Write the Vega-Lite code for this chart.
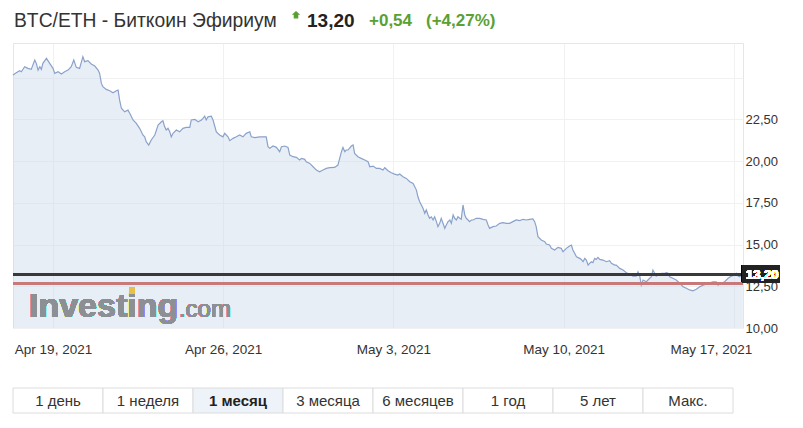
{
  "$schema": "https://vega.github.io/schema/vega-lite/v6.json",
  "padding": {"left": 10, "top": 0, "right": 20, "bottom": 10},
  "config": {"view": {"stroke": null}, "font": "Liberation Sans"},
  "datasets": {
    "btc": [
      {"date":"2021-04-17T08:30:00Z","price":25.15},{"date":"2021-04-17T11:45:00Z","price":25.29},{"date":"2021-04-17T15:00:00Z","price":25.41},{"date":"2021-04-17T16:45:00Z","price":25.35},{"date":"2021-04-17T20:00:00Z","price":25.65},{"date":"2021-04-17T23:15:00Z","price":25.55},
      {"date":"2021-04-18T02:30:00Z","price":25.49},{"date":"2021-04-18T06:00:00Z","price":26.05},{"date":"2021-04-18T07:30:00Z","price":25.85},{"date":"2021-04-18T09:15:00Z","price":25.45},{"date":"2021-04-18T11:00:00Z","price":25.65},{"date":"2021-04-18T12:30:00Z","price":25.49},{"date":"2021-04-18T14:00:00Z","price":25.85},{"date":"2021-04-18T17:30:00Z","price":26.15},{"date":"2021-04-18T20:45:00Z","price":25.85},
      {"date":"2021-04-19T00:00:00Z","price":25.55},{"date":"2021-04-19T01:45:00Z","price":25.25},{"date":"2021-04-19T05:00:00Z","price":25.35},{"date":"2021-04-19T08:15:00Z","price":25.21},{"date":"2021-04-19T11:30:00Z","price":25.35},{"date":"2021-04-19T14:45:00Z","price":25.45},{"date":"2021-04-19T18:00:00Z","price":25.65},{"date":"2021-04-19T20:30:00Z","price":26.05},{"date":"2021-04-19T23:00:00Z","price":25.61},
      {"date":"2021-04-20T02:15:00Z","price":25.55},{"date":"2021-04-20T05:30:00Z","price":26.25},{"date":"2021-04-20T07:15:00Z","price":25.95},{"date":"2021-04-20T10:30:00Z","price":26.01},{"date":"2021-04-20T13:45:00Z","price":25.81},{"date":"2021-04-20T17:15:00Z","price":25.69},{"date":"2021-04-20T20:30:00Z","price":25.45},{"date":"2021-04-20T22:00:00Z","price":25.25},{"date":"2021-04-20T23:45:00Z","price":24.65},
      {"date":"2021-04-21T01:15:00Z","price":24.45},{"date":"2021-04-21T04:30:00Z","price":24.29},{"date":"2021-04-21T08:00:00Z","price":24.21},{"date":"2021-04-21T11:15:00Z","price":24.09},{"date":"2021-04-21T14:30:00Z","price":24.21},{"date":"2021-04-21T16:15:00Z","price":24.25},{"date":"2021-04-21T17:45:00Z","price":23.65},{"date":"2021-04-21T19:30:00Z","price":23.16},{"date":"2021-04-21T22:45:00Z","price":22.95},
      {"date":"2021-04-22T02:00:00Z","price":23.05},{"date":"2021-04-22T03:45:00Z","price":22.86},{"date":"2021-04-22T07:00:00Z","price":22.46},{"date":"2021-04-22T10:15:00Z","price":22.26},{"date":"2021-04-22T13:30:00Z","price":21.96},{"date":"2021-04-22T16:45:00Z","price":21.56},{"date":"2021-04-22T18:30:00Z","price":21.45},{"date":"2021-04-22T20:00:00Z","price":21.16},{"date":"2021-04-22T22:30:00Z","price":20.96},
      {"date":"2021-04-23T01:00:00Z","price":21.26},{"date":"2021-04-23T04:30:00Z","price":21.56},{"date":"2021-04-23T07:45:00Z","price":22.16},{"date":"2021-04-23T11:00:00Z","price":22.35},{"date":"2021-04-23T12:30:00Z","price":22.41},{"date":"2021-04-23T14:15:00Z","price":22.05},{"date":"2021-04-23T15:45:00Z","price":21.86},{"date":"2021-04-23T17:30:00Z","price":21.96},{"date":"2021-04-23T19:15:00Z","price":21.75},{"date":"2021-04-23T20:45:00Z","price":21.45},{"date":"2021-04-23T22:30:00Z","price":21.66},
      {"date":"2021-04-24T01:45:00Z","price":21.86},{"date":"2021-04-24T05:00:00Z","price":21.75},{"date":"2021-04-24T08:15:00Z","price":21.96},{"date":"2021-04-24T11:30:00Z","price":22.02},{"date":"2021-04-24T15:00:00Z","price":22.02},{"date":"2021-04-24T16:30:00Z","price":22.46},{"date":"2021-04-24T20:00:00Z","price":22.50},{"date":"2021-04-24T23:15:00Z","price":22.35},
      {"date":"2021-04-25T02:30:00Z","price":22.46},{"date":"2021-04-25T04:00:00Z","price":22.56},{"date":"2021-04-25T05:45:00Z","price":22.69},{"date":"2021-04-25T07:15:00Z","price":22.46},{"date":"2021-04-25T09:00:00Z","price":22.65},{"date":"2021-04-25T12:15:00Z","price":22.69},{"date":"2021-04-25T14:00:00Z","price":22.46},{"date":"2021-04-25T17:15:00Z","price":21.75},{"date":"2021-04-25T20:30:00Z","price":21.56},{"date":"2021-04-25T23:45:00Z","price":21.45},
      {"date":"2021-04-26T01:30:00Z","price":21.66},{"date":"2021-04-26T04:45:00Z","price":21.45},{"date":"2021-04-26T06:30:00Z","price":21.22},{"date":"2021-04-26T09:45:00Z","price":21.36},{"date":"2021-04-26T13:00:00Z","price":21.45},{"date":"2021-04-26T16:15:00Z","price":21.56},{"date":"2021-04-26T19:30:00Z","price":21.45},{"date":"2021-04-26T22:45:00Z","price":21.66},
      {"date":"2021-04-27T02:15:00Z","price":21.75},{"date":"2021-04-27T03:45:00Z","price":21.45},{"date":"2021-04-27T07:15:00Z","price":21.40},{"date":"2021-04-27T12:00:00Z","price":21.45},{"date":"2021-04-27T17:00:00Z","price":21.45},{"date":"2021-04-27T18:30:00Z","price":21.45},{"date":"2021-04-27T20:15:00Z","price":20.86},{"date":"2021-04-27T22:00:00Z","price":20.76},
      {"date":"2021-04-28T01:15:00Z","price":20.90},{"date":"2021-04-28T04:30:00Z","price":20.82},{"date":"2021-04-28T07:45:00Z","price":20.56},{"date":"2021-04-28T09:30:00Z","price":20.86},{"date":"2021-04-28T12:45:00Z","price":20.90},{"date":"2021-04-28T16:00:00Z","price":20.82},{"date":"2021-04-28T17:45:00Z","price":20.36},{"date":"2021-04-28T21:00:00Z","price":20.26},
      {"date":"2021-04-29T00:15:00Z","price":20.22},{"date":"2021-04-29T03:30:00Z","price":20.06},{"date":"2021-04-29T05:15:00Z","price":20.16},{"date":"2021-04-29T08:30:00Z","price":20.10},{"date":"2021-04-29T10:00:00Z","price":19.96},{"date":"2021-04-29T13:30:00Z","price":19.86},{"date":"2021-04-29T16:45:00Z","price":19.66},{"date":"2021-04-29T20:00:00Z","price":19.46},{"date":"2021-04-29T23:15:00Z","price":19.36},
      {"date":"2021-04-30T02:30:00Z","price":19.46},{"date":"2021-04-30T05:45:00Z","price":19.56},{"date":"2021-04-30T09:15:00Z","price":19.60},{"date":"2021-04-30T14:00:00Z","price":19.62},{"date":"2021-04-30T17:15:00Z","price":19.76},{"date":"2021-04-30T19:00:00Z","price":20.16},{"date":"2021-04-30T20:45:00Z","price":20.56},{"date":"2021-04-30T22:15:00Z","price":20.82},
      {"date":"2021-05-01T00:00:00Z","price":20.56},{"date":"2021-05-01T01:30:00Z","price":20.66},{"date":"2021-05-01T03:15:00Z","price":20.66},{"date":"2021-05-01T06:30:00Z","price":20.90},{"date":"2021-05-01T08:15:00Z","price":20.96},{"date":"2021-05-01T09:45:00Z","price":20.46},{"date":"2021-05-01T13:00:00Z","price":20.26},{"date":"2021-05-01T16:15:00Z","price":20.16},{"date":"2021-05-01T19:45:00Z","price":20.06},{"date":"2021-05-01T23:00:00Z","price":19.96},
      {"date":"2021-05-02T00:45:00Z","price":19.66},{"date":"2021-05-02T04:00:00Z","price":19.70},{"date":"2021-05-02T07:15:00Z","price":19.56},{"date":"2021-05-02T10:30:00Z","price":19.56},{"date":"2021-05-02T13:45:00Z","price":19.46},{"date":"2021-05-02T15:30:00Z","price":19.60},{"date":"2021-05-02T18:45:00Z","price":19.42},{"date":"2021-05-02T22:00:00Z","price":19.30},
      {"date":"2021-05-03T01:15:00Z","price":19.22},{"date":"2021-05-03T04:30:00Z","price":19.16},{"date":"2021-05-03T06:15:00Z","price":19.22},{"date":"2021-05-03T09:30:00Z","price":19.06},{"date":"2021-05-03T12:45:00Z","price":18.96},{"date":"2021-05-03T16:15:00Z","price":18.76},{"date":"2021-05-03T19:30:00Z","price":18.66},{"date":"2021-05-03T22:45:00Z","price":18.26},
      {"date":"2021-05-04T00:15:00Z","price":17.86},{"date":"2021-05-04T02:00:00Z","price":17.56},{"date":"2021-05-04T05:15:00Z","price":17.17},{"date":"2021-05-04T07:00:00Z","price":16.87},{"date":"2021-05-04T08:30:00Z","price":17.07},{"date":"2021-05-04T10:15:00Z","price":16.77},{"date":"2021-05-04T11:45:00Z","price":16.57},{"date":"2021-05-04T13:30:00Z","price":16.66},{"date":"2021-05-04T15:15:00Z","price":16.47},{"date":"2021-05-04T16:45:00Z","price":16.66},{"date":"2021-05-04T18:30:00Z","price":16.37},{"date":"2021-05-04T20:00:00Z","price":16.07},{"date":"2021-05-04T21:45:00Z","price":16.27},{"date":"2021-05-04T23:15:00Z","price":16.57},
      {"date":"2021-05-05T01:00:00Z","price":16.27},{"date":"2021-05-05T02:45:00Z","price":15.97},{"date":"2021-05-05T04:15:00Z","price":16.17},{"date":"2021-05-05T06:00:00Z","price":16.37},{"date":"2021-05-05T07:45:00Z","price":16.47},{"date":"2021-05-05T09:15:00Z","price":16.27},{"date":"2021-05-05T11:00:00Z","price":16.77},{"date":"2021-05-05T12:30:00Z","price":16.57},{"date":"2021-05-05T14:15:00Z","price":16.47},{"date":"2021-05-05T15:45:00Z","price":16.66},{"date":"2021-05-05T17:30:00Z","price":16.57},{"date":"2021-05-05T19:00:00Z","price":16.51},{"date":"2021-05-05T20:45:00Z","price":17.37},{"date":"2021-05-05T22:30:00Z","price":16.77},
      {"date":"2021-05-06T00:00:00Z","price":16.57},{"date":"2021-05-06T01:45:00Z","price":16.47},{"date":"2021-05-06T03:15:00Z","price":16.37},{"date":"2021-05-06T05:00:00Z","price":16.47},{"date":"2021-05-06T06:45:00Z","price":16.47},{"date":"2021-05-06T09:45:00Z","price":16.57},{"date":"2021-05-06T13:15:00Z","price":16.57},{"date":"2021-05-06T16:30:00Z","price":16.51},{"date":"2021-05-06T19:45:00Z","price":16.47},{"date":"2021-05-06T21:30:00Z","price":16.17},{"date":"2021-05-06T23:00:00Z","price":15.97},
      {"date":"2021-05-07T02:15:00Z","price":16.07},{"date":"2021-05-07T05:30:00Z","price":16.11},{"date":"2021-05-07T09:00:00Z","price":16.27},{"date":"2021-05-07T12:15:00Z","price":16.31},{"date":"2021-05-07T15:30:00Z","price":16.27},{"date":"2021-05-07T18:45:00Z","price":16.27},{"date":"2021-05-07T22:00:00Z","price":16.37},
      {"date":"2021-05-08T01:15:00Z","price":16.47},{"date":"2021-05-08T04:45:00Z","price":16.43},{"date":"2021-05-08T08:00:00Z","price":16.51},{"date":"2021-05-08T11:15:00Z","price":16.47},{"date":"2021-05-08T14:30:00Z","price":16.51},{"date":"2021-05-08T17:45:00Z","price":16.53},{"date":"2021-05-08T19:30:00Z","price":16.37},{"date":"2021-05-08T21:00:00Z","price":16.07},{"date":"2021-05-08T22:45:00Z","price":15.47},
      {"date":"2021-05-09T02:00:00Z","price":15.27},{"date":"2021-05-09T05:30:00Z","price":15.17},{"date":"2021-05-09T07:00:00Z","price":15.03},{"date":"2021-05-09T10:15:00Z","price":14.97},{"date":"2021-05-09T12:00:00Z","price":14.77},{"date":"2021-05-09T15:15:00Z","price":14.67},{"date":"2021-05-09T18:30:00Z","price":14.83},{"date":"2021-05-09T21:45:00Z","price":14.77},{"date":"2021-05-09T23:30:00Z","price":14.57},
      {"date":"2021-05-10T02:45:00Z","price":14.77},{"date":"2021-05-10T06:00:00Z","price":14.91},{"date":"2021-05-10T07:45:00Z","price":14.97},{"date":"2021-05-10T09:15:00Z","price":14.67},{"date":"2021-05-10T12:45:00Z","price":14.27},{"date":"2021-05-10T16:00:00Z","price":14.17},{"date":"2021-05-10T17:30:00Z","price":14.11},{"date":"2021-05-10T19:15:00Z","price":13.97},{"date":"2021-05-10T21:00:00Z","price":14.17},{"date":"2021-05-10T22:30:00Z","price":14.07},
      {"date":"2021-05-11T00:15:00Z","price":13.77},{"date":"2021-05-11T01:45:00Z","price":13.87},{"date":"2021-05-11T03:30:00Z","price":13.97},{"date":"2021-05-11T05:00:00Z","price":13.91},{"date":"2021-05-11T06:45:00Z","price":14.17},{"date":"2021-05-11T08:15:00Z","price":14.11},{"date":"2021-05-11T10:00:00Z","price":14.23},{"date":"2021-05-11T11:45:00Z","price":14.11},{"date":"2021-05-11T15:00:00Z","price":14.07},{"date":"2021-05-11T18:15:00Z","price":13.97},{"date":"2021-05-11T21:30:00Z","price":14.03},{"date":"2021-05-11T23:15:00Z","price":13.87},
      {"date":"2021-05-12T02:30:00Z","price":13.77},{"date":"2021-05-12T04:00:00Z","price":13.77},{"date":"2021-05-12T07:30:00Z","price":13.57},{"date":"2021-05-12T10:45:00Z","price":13.47},{"date":"2021-05-12T14:00:00Z","price":13.31},{"date":"2021-05-12T17:15:00Z","price":13.23},{"date":"2021-05-12T20:30:00Z","price":13.11},{"date":"2021-05-12T23:45:00Z","price":13.11},
      {"date":"2021-05-13T01:30:00Z","price":13.37},{"date":"2021-05-13T03:15:00Z","price":13.11},{"date":"2021-05-13T04:45:00Z","price":12.57},{"date":"2021-05-13T06:30:00Z","price":12.87},{"date":"2021-05-13T09:45:00Z","price":12.77},{"date":"2021-05-13T13:00:00Z","price":12.98},{"date":"2021-05-13T14:45:00Z","price":13.07},{"date":"2021-05-13T16:15:00Z","price":13.47},{"date":"2021-05-13T18:00:00Z","price":13.28},{"date":"2021-05-13T19:30:00Z","price":13.11},{"date":"2021-05-13T21:15:00Z","price":13.17},
      {"date":"2021-05-14T00:30:00Z","price":13.28},{"date":"2021-05-14T04:00:00Z","price":13.28},{"date":"2021-05-14T05:30:00Z","price":13.31},{"date":"2021-05-14T07:15:00Z","price":13.28},{"date":"2021-05-14T08:45:00Z","price":13.07},{"date":"2021-05-14T12:00:00Z","price":12.98},{"date":"2021-05-14T15:15:00Z","price":12.87},{"date":"2021-05-14T18:45:00Z","price":12.68},{"date":"2021-05-14T22:00:00Z","price":12.47},
      {"date":"2021-05-15T01:15:00Z","price":12.38},{"date":"2021-05-15T04:30:00Z","price":12.28},{"date":"2021-05-15T07:45:00Z","price":12.23},{"date":"2021-05-15T11:00:00Z","price":12.32},{"date":"2021-05-15T14:30:00Z","price":12.47},{"date":"2021-05-15T17:45:00Z","price":12.57},{"date":"2021-05-15T21:00:00Z","price":12.63},
      {"date":"2021-05-16T00:15:00Z","price":12.71},{"date":"2021-05-16T03:30:00Z","price":12.77},{"date":"2021-05-16T06:45:00Z","price":12.77},{"date":"2021-05-16T08:30:00Z","price":12.57},{"date":"2021-05-16T11:45:00Z","price":12.68},{"date":"2021-05-16T15:00:00Z","price":12.77},{"date":"2021-05-16T18:30:00Z","price":12.98},{"date":"2021-05-16T21:45:00Z","price":13.11},
      {"date":"2021-05-17T01:00:00Z","price":13.17},{"date":"2021-05-17T02:30:00Z","price":13.28},{"date":"2021-05-17T04:15:00Z","price":13.11},{"date":"2021-05-17T06:00:00Z","price":13.07},{"date":"2021-05-17T07:30:00Z","price":13.17},{"date":"2021-05-17T09:00:00Z","price":13.20}
    ],
    "header": [
      {"seg": 0, "label": "BTC/ETH - Биткоин Эфириум"},
      {"seg": 1, "label": "up"},
      {"seg": 2, "label": "13,20"},
      {"seg": 3, "label": "+0,54"},
      {"seg": 4, "label": "(+4,27%)"}
    ],
    "periods": [
      {"label": "1 день"}, {"label": "1 неделя"}, {"label": "1 месяц"}, {"label": "3 месяца"},
      {"label": "6 месяцев"}, {"label": "1 год"}, {"label": "5 лет"}, {"label": "Макс."}
    ]
  },
  "vconcat": [
    {
      "width": 730,
      "height": 42,
      "data": {"name": "header"},
      "encoding": {
        "x": {"field": "seg", "type": "quantitative", "axis": null,
              "scale": {"domain": [0, 1, 2, 3, 4], "range": [1, 283, 294, 356, 413], "zero": false, "nice": false}}
      },
      "layer": [
        {"transform": [{"filter": "datum.seg === 0"}],
         "mark": {"type": "text", "align": "left", "baseline": "middle", "fontSize": 19.3, "color": "#333333"},
         "encoding": {"text": {"field": "label"}}},
        {"transform": [{"filter": "datum.seg === 1"}],
         "mark": {"type": "point", "shape": "M0,-1.67L0.7,-1.05L0.38,-1.05L0.38,-0.43L-0.38,-0.43L-0.38,-1.05L-0.7,-1.05Z", "filled": true, "size": 144, "color": "#5ba033", "opacity": 1}},
        {"transform": [{"filter": "datum.seg === 2"}],
         "mark": {"type": "text", "align": "left", "baseline": "middle", "fontSize": 19, "fontWeight": "bold", "color": "#222222"},
         "encoding": {"text": {"field": "label"}}},
        {"transform": [{"filter": "datum.seg >= 3"}],
         "mark": {"type": "text", "align": "left", "baseline": "middle", "fontSize": 17, "fontWeight": "bold", "color": "#5ba033"},
         "encoding": {"text": {"field": "label"}}}
      ]
    },
    {
      "bounds": "flush",
      "spacing": 60,
      "vconcat": [
        {
          "width": 730,
          "height": 285,
          "view": {"stroke": "#e6e6e6"},
          "data": {"name": "btc"},
          "layer": [
            {
              "mark": {"type": "area", "color": "#cdd9ea", "fillOpacity": 0.45, "line": {"color": "#8aa2ca", "strokeWidth": 1.2}},
              "encoding": {
                "x": {"field": "date", "type": "temporal",
                      "scale": {"type": "utc", "nice": false,
                                "domain": [{"year": 2021, "month": 4, "date": 17, "hours": 8, "minutes": 30, "utc": true},
                                           {"year": 2021, "month": 5, "date": 17, "hours": 9, "minutes": 10, "utc": true}]},
                      "axis": {"title": null, "values": [
                                 {"year": 2021, "month": 4, "date": 19, "utc": true},
                                 {"year": 2021, "month": 4, "date": 26, "utc": true},
                                 {"year": 2021, "month": 5, "date": 3, "utc": true},
                                 {"year": 2021, "month": 5, "date": 10, "utc": true},
                                 {"year": 2021, "month": 5, "date": 17, "utc": true}],
                               "labelExpr": "utcFormat(datum.value, '%b %-d, %Y')",
                               "grid": true, "gridColor": "#f1f1f1", "ticks": false, "domain": false,
                               "labelFontSize": 13.5, "labelColor": "#333333", "labelPadding": 14,
                               "labelFlush": 12, "labelFlushOffset": 18, "labelOverlap": false}},
                "y": {"field": "price", "type": "quantitative",
                      "scale": {"domain": [10, 27.07], "zero": false, "nice": false},
                      "axis": {"title": null, "orient": "right", "values": [10, 12.5, 15, 17.5, 20, 22.5, 25],
                               "labelExpr": "datum.value > 24 ? '' : replace(format(datum.value, '.2f'), '.', ',')",
                               "grid": true, "gridColor": "#f1f1f1", "ticks": false, "domain": false,
                               "labelFontSize": 13, "labelColor": "#333333", "labelPadding": 2}},
                "y2": {"datum": 10}
              }
            },
            {
              "mark": {"type": "text", "align": "left", "baseline": "alphabetic", "fontSize": 34, "fontWeight": "bold", "color": "#8c8f93"},
              "encoding": {
                "x": {"datum": {"year": 2021, "month": 4, "date": 18, "hours": 0, "minutes": 15, "utc": true}, "type": "temporal"},
                "y": {"datum": 10.68, "type": "quantitative"},
                "text": {"value": "Investing"}
              }
            },
            {
              "mark": {"type": "text", "align": "left", "baseline": "alphabetic", "fontSize": 24, "color": "#8c8f93"},
              "encoding": {
                "x": {"datum": {"year": 2021, "month": 4, "date": 24, "hours": 4, "minutes": 20, "utc": true}, "type": "temporal"},
                "y": {"datum": 10.68, "type": "quantitative"},
                "text": {"value": ".com"}
              }
            },
            {
              "mark": {"type": "point", "shape": "square", "filled": true, "size": 36, "color": "#e6c04a", "opacity": 1},
              "encoding": {
                "x": {"datum": {"year": 2021, "month": 4, "date": 22, "hours": 6, "utc": true}, "type": "temporal"},
                "y": {"datum": 12.22, "type": "quantitative"}
              }
            },
            {
              "mark": {"type": "rule", "color": "#c87878", "strokeWidth": 2},
              "encoding": {"y": {"datum": 12.66, "type": "quantitative"}}
            },
            {
              "mark": {"type": "rule", "color": "#3a3a3a", "strokeWidth": 1.4},
              "encoding": {"y": {"datum": 13.2, "type": "quantitative"}}
            },
            {
              "mark": {"type": "rect", "color": "#222222", "opacity": 1},
              "encoding": {
                "x": {"datum": {"year": 2021, "month": 5, "date": 17, "hours": 8, "minutes": 10, "utc": true}, "type": "temporal"},
                "x2": {"datum": {"year": 2021, "month": 5, "date": 18, "hours": 21, "minutes": 40, "utc": true}},
                "y": {"datum": 13.77, "type": "quantitative"},
                "y2": {"datum": 12.72}
              }
            },
            {
              "mark": {"type": "text", "align": "left", "baseline": "middle", "dx": 3, "fontSize": 13, "fontWeight": "bold", "color": "#ffffff"},
              "encoding": {
                "x": {"datum": {"year": 2021, "month": 5, "date": 17, "hours": 9, "minutes": 10, "utc": true}, "type": "temporal"},
                "y": {"datum": 13.2, "type": "quantitative"},
                "text": {"value": "13,20"}
              }
            }
          ]
        },
        {
          "width": 720,
          "height": 25,
          "data": {"name": "periods"},
          "encoding": {
            "x": {"field": "label", "type": "nominal", "sort": null, "axis": null,
                  "scale": {"domain": ["1 день", "1 неделя", "1 месяц", "3 месяца", "6 месяцев", "1 год", "5 лет", "Макс."], "paddingInner": 0, "paddingOuter": 0}}
          },
          "layer": [
            {"mark": {"type": "bar", "stroke": "#dcdcdc", "strokeWidth": 1},
             "encoding": {"color": {"condition": {"test": "datum.label === '1 месяц'", "value": "#eef3f9"}, "value": "#ffffff"}}},
            {"transform": [{"filter": "datum.label !== '1 месяц'"}],
             "mark": {"type": "text", "fontSize": 15, "color": "#333333", "baseline": "middle"},
             "encoding": {"text": {"field": "label"}}},
            {"transform": [{"filter": "datum.label === '1 месяц'"}],
             "mark": {"type": "text", "fontSize": 15, "fontWeight": "bold", "color": "#222222", "baseline": "middle"},
             "encoding": {"text": {"field": "label"}}}
          ]
        }
      ]
    }
  ],
  "spacing": 1,
  "bounds": "flush"
}
